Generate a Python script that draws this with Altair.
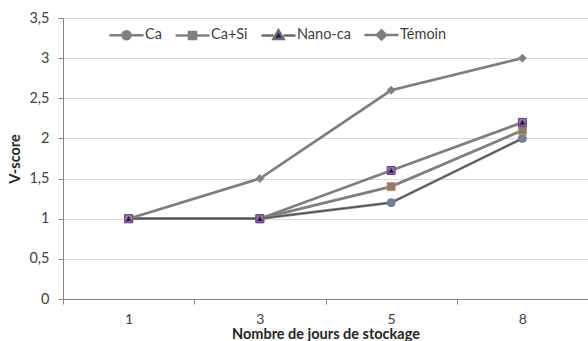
import altair as alt
import pandas as pd

days = ["1", "3", "5", "8"]
series_names = ["Ca", "Ca+Si", "Nano-ca", "Témoin"]
ca = [1.0, 1.0, 1.2, 2.0]
ca_si = [1.0, 1.0, 1.4, 2.1]
nano_ca = [1.0, 1.0, 1.6, 2.2]
temoin = [1.0, 1.5, 2.6, 3.0]
y_ticks = [0, 0.5, 1, 1.5, 2, 2.5, 3, 3.5]

rows = []
for name, vals in zip(series_names, [ca, ca_si, nano_ca, temoin]):
    for d, v in zip(days, vals):
        rows.append({"jour": d, "serie": name, "v": v})
df = pd.DataFrame(rows)

FONT = "Lato"
GRAY = "#7f7f7f"

x_enc = alt.X(
    "jour:N", sort=days, title="Nombre de jours de stockage",
    scale=alt.Scale(type="band", paddingInner=0, paddingOuter=0),
    axis=alt.Axis(tickBand="extent", labelAngle=0, tickSize=5, labelPadding=8,
                  labelFontSize=14, titlePadding=1, grid=False),
)
y_enc = alt.Y(
    "v:Q", title="V-score",
    scale=alt.Scale(domain=[0, 3.5], nice=False),
    axis=alt.Axis(values=y_ticks, tickSize=5, labelPadding=9, titlePadding=6,
                  labelExpr="replace(toString(datum.value), '.', ',')"),
)

lines = alt.Chart(df).mark_line(strokeWidth=2.8, color=GRAY).encode(
    x=x_enc, y=y_enc, detail="serie:N",
    order=alt.Order("jour:N"),
)

ca_core = alt.Chart(df).transform_filter(alt.datum.serie == "Ca").mark_line(
    strokeWidth=1.0, color="#4a4a4a"
).encode(x=alt.X("jour:N", sort=days), y="v:Q")

legend_paths = [
    "M-1,0H1M0.24,0A0.24,0.24,0,1,1,-0.24,0A0.24,0.24,0,1,1,0.24,0Z",
    "M-1,0H1M-0.21,-0.21H0.21V0.21H-0.21Z",
    "M-1,0H-0.3M0.3,0H1M0,-0.3L0.3,0.22L-0.3,0.22Z",
    "M-1,0H1M0,-0.27L0.27,0L0,0.27L-0.27,0Z",
]


def leg():
    return alt.Legend(
        orient="none", legendX=45, legendY=-2, direction="horizontal", title=None,
        symbolSize=1156, symbolStrokeWidth=2.5, symbolOpacity=1,
        labelOffset=0, columnPadding=8,
        labelFont=FONT, labelFontSize=14.5, labelColor="#404040",
    )


legend_layer = alt.Chart(df).mark_point(
    filled=True, opacity=0, strokeWidth=2.5
).encode(
    x=alt.X("jour:N", sort=days),
    y="v:Q",
    shape=alt.Shape("serie:N", sort=series_names,
                    scale=alt.Scale(domain=series_names, range=legend_paths), legend=leg()),
    fill=alt.Fill("serie:N", sort=series_names,
                  scale=alt.Scale(domain=series_names, range=[GRAY, GRAY, "#1c1c48", GRAY]),
                  legend=leg()),
    stroke=alt.Stroke("serie:N", sort=series_names,
                      scale=alt.Scale(domain=series_names, range=[GRAY, GRAY, "#6a6a72", GRAY]),
                      legend=leg()),
)

points = alt.Chart(df).mark_point(filled=True, size=64, strokeWidth=1, opacity=1).encode(
    x=alt.X("jour:N", sort=days),
    y="v:Q",
    shape=alt.Shape("serie:N", scale=alt.Scale(domain=series_names,
                    range=["circle", "square", "square", "diamond"]), legend=None),
    fill=alt.Fill("serie:N", scale=alt.Scale(domain=series_names, range=[GRAY, GRAY, GRAY, GRAY]), legend=None),
    stroke=alt.Stroke("serie:N", scale=alt.Scale(domain=series_names,
                      range=["#4a7ebb", "#e08a3c", "#7030a0", "#8a8a8a"]), legend=None),
)

tri = alt.Chart(df).transform_filter(alt.datum.serie == "Nano-ca").mark_point(
    shape="triangle-up", filled=True, size=28, fill="#111133", stroke="#5b3a9a", strokeWidth=0.8, opacity=1
).encode(x=alt.X("jour:N", sort=days), y="v:Q")

chart = alt.layer(lines, ca_core, legend_layer, points, tri).resolve_scale(
    fill="independent", stroke="independent", shape="independent"
).properties(
    width=525, height=281,
    autosize=alt.AutoSizeParams(type="none"),
    padding={"left": 63, "top": 18, "right": 0, "bottom": 42},
    background="white",
).configure_view(stroke=None).configure_axis(
    labelFont=FONT, labelFontSize=14.5, labelColor="#404040",
    titleFont=FONT, titleFontSize=14.5, titleFontWeight="bold", titleColor="#262626",
    domainColor="#868686", tickColor="#868686", gridColor="#d9d9d9", domainWidth=1,
)

chart.save("out.html", embed_options={"renderer": "svg", "actions": False})
